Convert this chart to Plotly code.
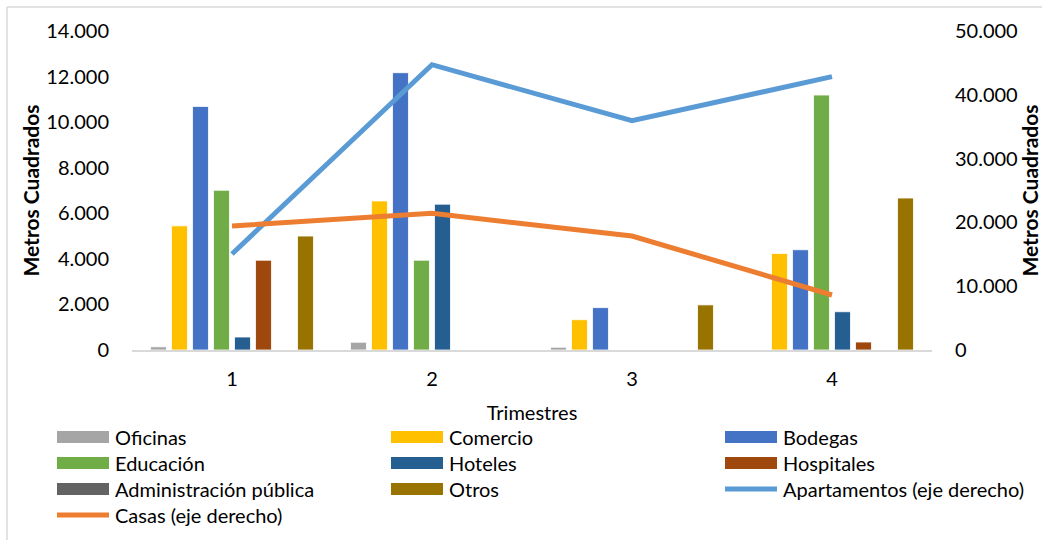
import plotly.graph_objects as go

trimestres = ["1", "2", "3", "4"]

bar_names = ["Oficinas", "Comercio", "Bodegas", "Educación", "Hoteles",
             "Hospitales", "Administración pública", "Otros"]
oficinas = [140, 340, 120, 0]
comercio = [5450, 6540, 1330, 4240]
bodegas = [10690, 12170, 1860, 4400]
educacion = [7010, 3940, 0, 11190]
hoteles = [570, 6400, 0, 1680]
hospitales = [3940, 0, 0, 350]
administracion = [0, 0, 0, 0]
otros = [5000, 0, 1980, 6670]
bar_values = [oficinas, comercio, bodegas, educacion, hoteles,
              hospitales, administracion, otros]
bar_colors = ["#A5A5A5", "#FFC000", "#4472C4", "#70AD47", "#255E91",
              "#9E480E", "#636363", "#997300"]

line_names = ["Apartamentos (eje derecho)", "Casas (eje derecho)"]
apartamentos = [15050, 44720, 35940, 42840]
casas = [19440, 21420, 17870, 8620]
line_values = [apartamentos, casas]
line_colors = ["#5B9BD5", "#ED7D31"]

left_ticks = [0, 2000, 4000, 6000, 8000, 10000, 12000, 14000]
left_labels = ["0", "2.000", "4.000", "6.000", "8.000", "10.000", "12.000", "14.000"]
right_ticks = [0, 10000, 20000, 30000, 40000, 50000]
right_labels = ["0", "10.000", "20.000", "30.000", "40.000", "50.000"]

FONT = "Lato, Open Sans, sans-serif"
W, H = 1042, 540
L, R, T, B = 132, 110, 31, 190
PW, PH = W - L - R, H - T - B


def px_x(px):
    return (px - L) / PW


def px_y(py):
    return (H - B - py) / PH


fig = go.Figure()
for name, vals, col in zip(bar_names, bar_values, bar_colors):
    fig.add_trace(go.Bar(x=trimestres, y=vals, name=name,
                         marker=dict(color=col, line=dict(color="white", width=0.8)),
                         showlegend=False))
for name, vals, col in zip(line_names, line_values, line_colors):
    fig.add_trace(go.Scatter(x=trimestres, y=vals, name=name, yaxis="y2",
                             mode="lines", line=dict(color=col, width=5),
                             showlegend=False))

shapes = [
    dict(type="line", xref="paper", yref="paper", x0=px_x(7), x1=px_x(W + 5),
         y0=px_y(7), y1=px_y(7), line=dict(color="#D9D9D9", width=1.5)),
    dict(type="line", xref="paper", yref="paper", x0=px_x(7), x1=px_x(7),
         y0=px_y(7), y1=px_y(H + 5), line=dict(color="#D9D9D9", width=1.5)),
]
annotations = []

# custom legend (3 columns)
legend_names = bar_names + line_names
legend_colors = bar_colors + line_colors
col_x = [57, 391, 725]
row_y = [437, 463, 489, 515]
for i, (name, col) in enumerate(zip(legend_names, legend_colors)):
    cx = col_x[i % 3]
    ry = row_y[i // 3]
    if i < len(bar_names):
        shapes.append(dict(type="rect", xref="paper", yref="paper",
                           x0=px_x(cx), x1=px_x(cx + 52),
                           y0=px_y(ry + 6), y1=px_y(ry - 6),
                           fillcolor=col, line=dict(width=0)))
    else:
        shapes.append(dict(type="line", xref="paper", yref="paper",
                           x0=px_x(cx), x1=px_x(cx + 52),
                           y0=px_y(ry), y1=px_y(ry),
                           line=dict(color=col, width=5)))
    annotations.append(dict(text=name, xref="paper", yref="paper",
                            x=px_x(cx + 56), y=px_y(ry), xanchor="left",
                            yanchor="middle", showarrow=False,
                            font=dict(family=FONT, size=20, color="#000000")))

fig.update_layout(
    width=W, height=H,
    margin=dict(l=L, r=R, t=T, b=B),
    paper_bgcolor="white", plot_bgcolor="white",
    barmode="group", bargap=0.16, bargroupgap=0.24,
    font=dict(family=FONT, size=20, color="#000000"),
    showlegend=False,
    shapes=shapes, annotations=annotations,
    xaxis=dict(type="category", showgrid=False, zeroline=False, automargin=False,
               showline=True, linecolor="#D9D9D9", linewidth=1.5,
               ticks="outside", ticklen=10, tickcolor="rgba(0,0,0,0)",
               tickfont=dict(family=FONT, size=20),
               title=dict(text="Trimestres", standoff=17,
                          font=dict(family=FONT, size=20))),
    yaxis=dict(range=[0, 14000], tickvals=left_ticks, ticktext=left_labels,
               showgrid=False, zeroline=False, showline=False, automargin=False,
               ticks="outside", ticklen=18, tickcolor="rgba(0,0,0,0)",
               tickfont=dict(family=FONT, size=20),
               title=dict(text="<b>Metros Cuadrados</b>", standoff=0,
                          font=dict(family=FONT, size=21))),
    yaxis2=dict(range=[0, 50000], tickvals=right_ticks, ticktext=right_labels,
                overlaying="y", side="right", automargin=False,
                showgrid=False, zeroline=False, showline=False,
                ticks="outside", ticklen=18, tickcolor="rgba(0,0,0,0)",
                tickfont=dict(family=FONT, size=20),
                title=dict(text="<b>Metros Cuadrados</b>", standoff=14,
                           font=dict(family=FONT, size=21))),
)

fig.write_html("out.html", config={"displayModeBar": False},
               post_script="document.body.style.margin='0';document.body.style.overflow='hidden';")
